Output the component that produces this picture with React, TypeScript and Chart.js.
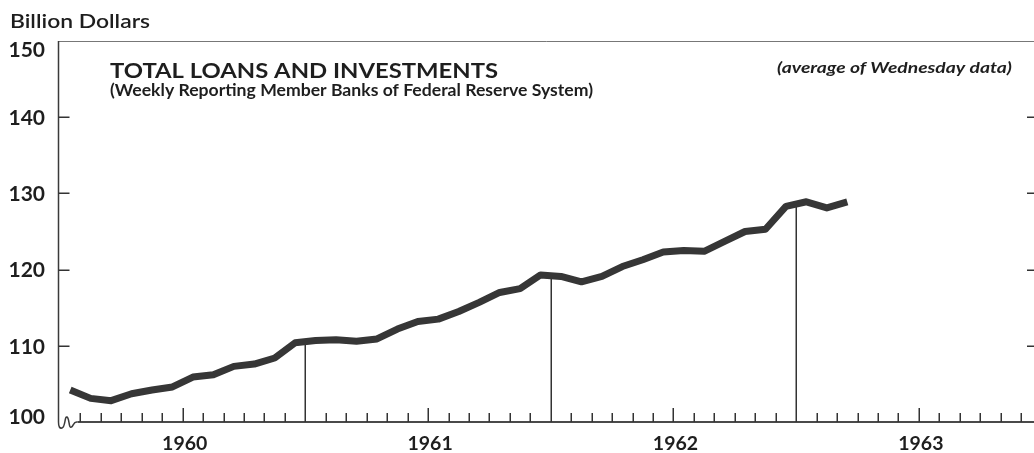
import React, { useEffect, useRef } from 'react';
import { Chart, registerables } from 'chart.js';

Chart.register(...registerables);

// ---- data ----
const YEARS = ['1960', '1961', '1962', '1963'];
const MONTHS = ['Jan', 'Feb', 'Mar', 'Apr', 'May', 'Jun', 'Jul', 'Aug', 'Sep', 'Oct', 'Nov', 'Dec'];
// Total loans and investments, billion dollars, monthly Jan 1960 – Mar 1963
const LOANS_1960 = [104.2, 103.1, 102.8, 103.7, 104.2, 104.6, 105.9, 106.2, 107.3, 107.6, 108.4, 110.4];
const LOANS_1961 = [110.7, 110.8, 110.6, 110.9, 112.2, 113.2, 113.5, 114.5, 115.7, 117.0, 117.5, 119.3];
const LOANS_1962 = [119.1, 118.4, 119.1, 120.4, 121.3, 122.3, 122.5, 122.4, 123.7, 125.0, 125.3, 128.3];
const LOANS_1963 = [128.9, 128.1, 128.9];
const LOANS = [...LOANS_1960, ...LOANS_1961, ...LOANS_1962, ...LOANS_1963];
const Y_TICKS = [100, 110, 120, 130, 140, 150];
const UNIT = 'Billion Dollars';
const TITLE = 'TOTAL LOANS AND INVESTMENTS';
const SUBTITLE = '(Weekly Reporting Member Banks of Federal Reserve System)';
const NOTE = '(average of Wednesday data)';
const X_MAX = 47.63; // months shown from Jan 1, 1960

const FAMILY = 'Lato, "Open Sans", "DejaVu Sans", sans-serif';
const INK = '#1e1e1e';
const CAP = 0.7165; // Lato cap-height ratio

// draw text so that its cap height and width match a given box
function boxText(
  ctx: CanvasRenderingContext2D,
  text: string,
  x: number,
  baseline: number,
  width: number,
  cap: number,
  style: string
) {
  const size = cap / CAP;
  ctx.font = `${style} ${size.toFixed(2)}px ${FAMILY}`;
  const w = ctx.measureText(text).width;
  ctx.save();
  ctx.translate(x, baseline);
  ctx.scale(width / w, 1);
  ctx.fillText(text, 0, 0);
  ctx.restore();
}

const decor = {
  id: 'decor',
  beforeDatasetsDraw(chart: any) {
    const { ctx, chartArea: a, scales } = chart;
    const xs = scales.x;
    const ys = scales.y;
    ctx.save();
    ctx.lineCap = 'butt';
    // top border
    ctx.lineWidth = 1;
    ctx.strokeStyle = '#777';
    ctx.beginPath();
    ctx.moveTo(a.left - 1.5, a.top + 0.5);
    ctx.lineTo(a.right, a.top + 0.5);
    ctx.stroke();
    // left axis with break squiggle
    ctx.strokeStyle = '#3a3a3a';
    ctx.lineWidth = 1.5;
    const L = a.left - 1.5;
    const B = a.bottom;
    ctx.beginPath();
    ctx.moveTo(L, a.top);
    ctx.lineTo(L, B);
    ctx.quadraticCurveTo(L, B + 7, L + 3.5, B + 6);
    ctx.bezierCurveTo(L + 7, B + 5, L + 6, B - 6, L + 8.5, B - 5);
    ctx.bezierCurveTo(L + 11, B - 4, L + 10, B + 7, L + 13, B + 5);
    ctx.bezierCurveTo(L + 15, B + 4, L + 15, B - 1, L + 19, B);
    ctx.stroke();
    // x axis line
    ctx.lineWidth = 2.2;
    ctx.strokeStyle = '#4a4a4a';
    ctx.beginPath();
    ctx.moveTo(L + 19, B);
    ctx.lineTo(a.right, B);
    ctx.stroke();
    // month ticks
    ctx.lineWidth = 1.5;
    ctx.strokeStyle = '#333';
    for (let m = 1; m < X_MAX; m++) {
      if (m % 12 === 0) continue;
      const px = Math.round(xs.getPixelForValue(m)) + 0.25;
      const h = m % 12 === 6 ? 14 : 9;
      ctx.beginPath();
      ctx.moveTo(px, B);
      ctx.lineTo(px, B - h);
      ctx.stroke();
    }
    // year boundary lines up to the curve
    for (let m = 12; m < LOANS.length; m += 12) {
      const px = Math.round(xs.getPixelForValue(m)) + 0.25;
      const v = (LOANS[m - 1] + LOANS[m]) / 2;
      ctx.beginPath();
      ctx.moveTo(px, B);
      ctx.lineTo(px, ys.getPixelForValue(v));
      ctx.stroke();
    }
    // y ticks (left inside and right edge)
    for (const v of Y_TICKS) {
      if (v === ys.min || v === ys.max) continue;
      const py = Math.round(ys.getPixelForValue(v)) + 0.25;
      ctx.beginPath();
      ctx.moveTo(L, py);
      ctx.lineTo(L + 11, py);
      ctx.moveTo(a.right - 7, py);
      ctx.lineTo(a.right, py);
      ctx.stroke();
    }
    ctx.restore();
  },
  afterDraw(chart: any) {
    const { ctx, chartArea: a, scales } = chart;
    const ys = scales.y;
    ctx.save();
    ctx.fillStyle = INK;
    ctx.textBaseline = 'alphabetic';
    ctx.textAlign = 'left';
    boxText(ctx, UNIT, 10, 28, 140, 13, '600');
    boxText(ctx, TITLE, 110, 78, 388, 15, 'bold');
    boxText(ctx, SUBTITLE, 110, 95.5, 483, 12, 'bold');
    boxText(ctx, NOTE, 777, 73, 235, 11.5, 'italic bold');
    // y labels
    ctx.font = `bold 21px ${FAMILY}`;
    ctx.textAlign = 'right';
    ctx.textBaseline = 'middle';
    for (const v of Y_TICKS) {
      let py = ys.getPixelForValue(v);
      py = Math.max(py, a.top + 8);
      py = Math.min(py, a.bottom - 6);
      ctx.fillText(String(v), a.left - 15, py + 1);
    }
    ctx.restore();
  },
};

export default function App() {
  const ref = useRef<HTMLCanvasElement>(null);
  useEffect(() => {
    const canvas = ref.current;
    if (!canvas) return;
    const chart = new Chart(canvas, {
      type: 'line',
      data: {
        datasets: [
          {
            label: TITLE,
            data: LOANS.map((v, i) => ({ x: i + 0.5, y: v })),
            borderColor: '#363636',
            borderWidth: 7,
            borderJoinStyle: 'round',
            borderCapStyle: 'butt',
            pointRadius: 0,
            tension: 0,
            fill: false,
          },
        ],
      },
      options: {
        responsive: false,
        animation: false,
        layout: { padding: { left: 60, right: 0, top: 41, bottom: 0 } },
        plugins: { legend: { display: false }, tooltip: { enabled: false }, title: { display: false } },
        scales: {
          x: {
            type: 'linear',
            min: 0,
            max: X_MAX,
            grid: { display: false, drawTicks: false },
            border: { display: false },
            ticks: {
              stepSize: 1,
              autoSkip: false,
              maxRotation: 0,
              padding: 10,
              labelOffset: 2,
              color: INK,
              font: { family: FAMILY, size: 19.5, weight: 'bold' },
              callback: (val: any) => {
                const m = Number(val);
                if (Number.isInteger(m) && m % 12 === 6) return YEARS[(m - 6) / 12] ?? '';
                return '';
              },
            },
            afterFit: (s: any) => {
              s.height = 31;
              s.paddingLeft = 0;
              s.paddingRight = 0;
            },
          },
          y: {
            type: 'linear',
            min: Y_TICKS[0],
            max: Y_TICKS[Y_TICKS.length - 1],
            display: false,
            ticks: { stepSize: 10 },
          },
        },
      },
      plugins: [decor],
    });
    return () => chart.destroy();
  }, []);
  return (
    <div style={{ position: 'absolute', left: 0, top: 0, width: 1034, height: 453, background: '#fff' }}>
      <canvas ref={ref} width={1034} height={453} style={{ display: 'block' }} aria-label={`${TITLE} ${MONTHS[0]} ${YEARS[0]}`} />
    </div>
  );
}
